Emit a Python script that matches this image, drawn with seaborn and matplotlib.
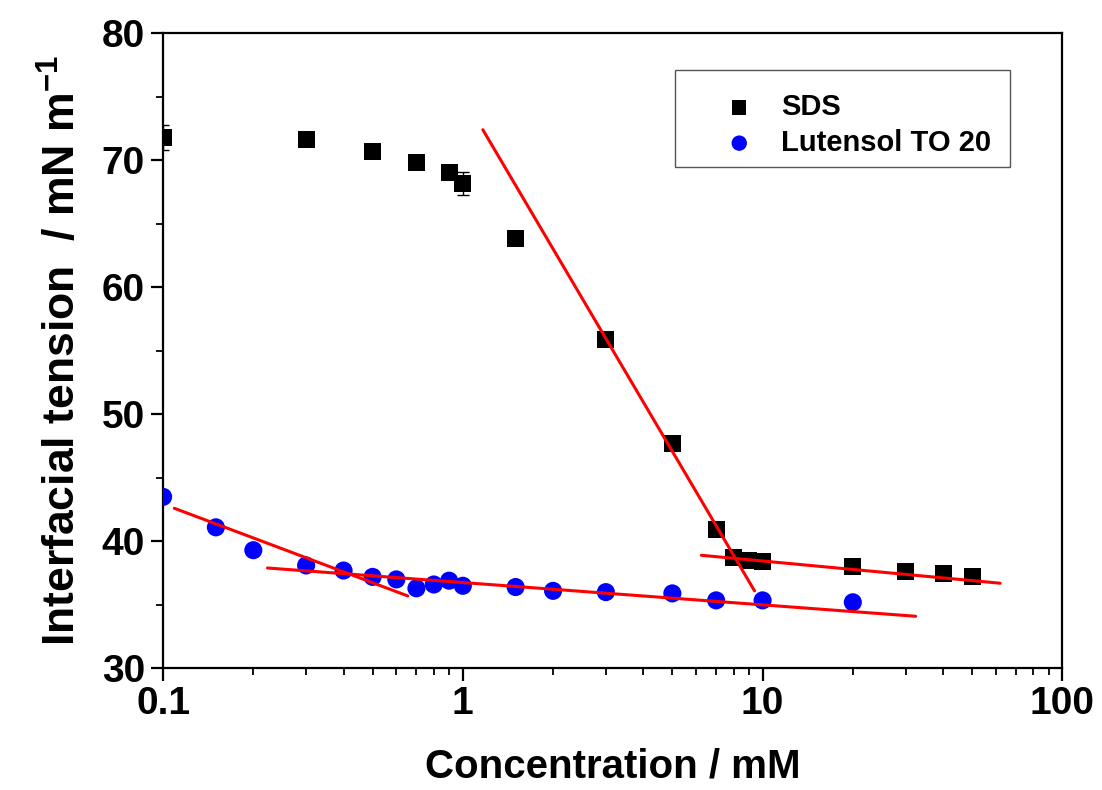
import numpy as np
import pandas as pd
import matplotlib
matplotlib.use('Agg')
import matplotlib.pyplot as plt
import matplotlib.patches as mpatches
import seaborn as sns
from matplotlib.ticker import LogLocator, FixedLocator, NullFormatter

### data ############################################
sds_conc = [0.1, 0.3, 0.5, 0.7, 0.9, 1.0, 1.5, 3, 5, 7, 8, 9, 10, 20, 30, 40, 50]
sds_ift = [71.8, 71.6, 70.7, 69.8, 69.0, 68.2, 63.8, 55.9, 47.7, 40.9, 38.7, 38.5, 38.4, 38.0, 37.6, 37.5, 37.2]
sds_err = [1.0, 0.2, 0.2, 0.2, 0.2, 0.9, 0.2, 0.2, 0.2, 0.2, 0.2, 0.2, 0.2, 0.2, 0.2, 0.2, 0.2]

lut_conc = [0.1, 0.15, 0.2, 0.3, 0.4, 0.5, 0.6, 0.7, 0.8, 0.9, 1.0, 1.5, 2, 3, 5, 7, 10, 20]
lut_ift = [43.5, 41.1, 39.3, 38.1, 37.7, 37.2, 37.0, 36.3, 36.6, 36.9, 36.5, 36.4, 36.1, 36.0, 35.9, 35.35, 35.35, 35.2]

# fitted lines (end points)
fit_sds_steep_x = [1.166, 9.4]
fit_sds_steep_y = [72.4, 36.1]
fit_sds_flat_x = [6.25, 62.0]
fit_sds_flat_y = [38.9, 36.7]
fit_lut_a_x = [0.109, 0.655]
fit_lut_a_y = [42.6, 35.7]
fit_lut_b_x = [0.223, 32.4]
fit_lut_b_y = [37.9, 34.1]

sds = pd.DataFrame({'conc': sds_conc, 'ift': sds_ift, 'err': sds_err})
lut = pd.DataFrame({'conc': lut_conc, 'ift': lut_ift})

### plot ############################################
sns.set_style('ticks', {'axes.edgecolor': 'black', 'text.color': 'black',
                        'xtick.color': 'black', 'ytick.color': 'black',
                        'axes.labelcolor': 'black'})
plt.rcParams['font.family'] = ['Liberation Sans', 'DejaVu Sans']
plt.rcParams['font.weight'] = 'bold'
plt.rcParams['mathtext.fontset'] = 'custom'
plt.rcParams['mathtext.bf'] = 'Liberation Sans:bold'
plt.rcParams['mathtext.rm'] = 'Liberation Sans:bold'

fig, ax = plt.subplots(figsize=(11.02, 7.90), dpi=100)
fig.subplots_adjust(left=0.148, right=0.964, top=0.958, bottom=0.154)

ax.errorbar(sds['conc'], sds['ift'], yerr=sds['err'], fmt='none', ecolor='black',
            elinewidth=1, capsize=4, capthick=1, zorder=2)
sns.scatterplot(data=sds, x='conc', y='ift', marker='s', s=150, color='black',
                edgecolor='none', label='SDS', ax=ax, zorder=3)
sns.scatterplot(data=lut, x='conc', y='ift', marker='o', s=170, color='#0000ff',
                edgecolor='none', label='Lutensol TO 20', ax=ax, zorder=3)

for fx, fy in [(fit_sds_steep_x, fit_sds_steep_y), (fit_sds_flat_x, fit_sds_flat_y),
               (fit_lut_a_x, fit_lut_a_y), (fit_lut_b_x, fit_lut_b_y)]:
    ax.plot(fx, fy, color='red', lw=2.2, zorder=4)

ax.set_xscale('log')
ax.set_xlim(0.1, 100)
ax.set_ylim(30, 80)
ax.xaxis.set_major_locator(FixedLocator([0.1, 1, 10, 100]))
ax.set_xticklabels(['0.1', '1', '10', '100'])
ax.xaxis.set_minor_locator(LogLocator(base=10, subs=np.arange(2, 10)))
ax.xaxis.set_minor_formatter(NullFormatter())
ax.set_yticks([30, 40, 50, 60, 70, 80])
ax.yaxis.set_minor_locator(FixedLocator([35, 45, 55, 65, 75]))

for s in ax.spines.values():
    s.set_linewidth(1.6)
    s.set_visible(True)
ax.tick_params(which='major', direction='out', length=9, width=1.6, labelsize=28, pad=4)
ax.tick_params(which='minor', direction='out', length=5, width=1.3)
for lab in ax.get_xticklabels() + ax.get_yticklabels():
    lab.set_fontweight('bold')

ax.set_xlabel('Concentration / mM', fontsize=29, fontweight='bold', labelpad=18)
ax.set_ylabel(r'Interfacial tension  / mN m$^{\mathbf{-1}}$', fontsize=32, fontweight='bold', labelpad=12)

# legend box drawn separately, entries placed inside
ax.add_patch(mpatches.Rectangle((0.5695, 0.789), 0.3726, 0.153, transform=ax.transAxes,
                                fill=False, edgecolor='#555555', lw=1.0, zorder=5))
leg = ax.legend(loc='upper left', bbox_to_anchor=(0.6245, 0.9055), borderaxespad=0,
                frameon=False, prop={'weight': 'bold', 'size': 21}, borderpad=0,
                labelspacing=0.26, handlelength=1.0, handletextpad=0.94, markerscale=0.85)

fig.savefig('out.png', dpi=100)
